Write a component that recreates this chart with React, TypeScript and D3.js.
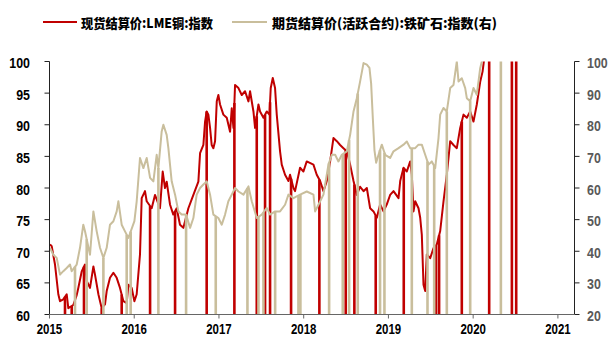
import React from 'react';
import * as d3 from 'd3';

// ---- Data (decimal years) ----
const copperDates = [
  2015.006, 2015.026, 2015.065, 2015.104, 2015.124, 2015.163, 2015.203, 2015.222, 2015.281, 2015.320,
  2015.340, 2015.380, 2015.419, 2015.439, 2015.478, 2015.518, 2015.537, 2015.577, 2015.616, 2015.655,
  2015.675, 2015.714, 2015.754, 2015.793, 2015.832, 2015.872, 2015.911, 2015.931, 2015.970, 2016.002,
  2016.029, 2016.068, 2016.088, 2016.127, 2016.147, 2016.206, 2016.245, 2016.304, 2016.336, 2016.363,
  2016.383, 2016.422, 2016.461, 2016.501, 2016.540, 2016.580, 2016.639, 2016.698, 2016.757, 2016.777,
  2016.816, 2016.836, 2016.855, 2016.875, 2016.895, 2016.914, 2016.934, 2016.954, 2016.974, 2016.993,
  2017.013, 2017.052, 2017.092, 2017.131, 2017.151, 2017.171, 2017.190, 2017.230, 2017.269, 2017.308,
  2017.348, 2017.367, 2017.407, 2017.426, 2017.466, 2017.485, 2017.525, 2017.564, 2017.596, 2017.611,
  2017.635, 2017.662, 2017.682, 2017.721, 2017.741, 2017.780, 2017.820, 2017.839, 2017.879, 2017.898,
  2017.957, 2017.997, 2018.036, 2018.115, 2018.154, 2018.194, 2018.233, 2018.273, 2018.312, 2018.351,
  2018.391, 2018.430, 2018.469, 2018.509, 2018.548, 2018.588, 2018.627, 2018.666, 2018.706, 2018.745,
  2018.784, 2018.824, 2018.863, 2018.902, 2018.942, 2018.981, 2019.020, 2019.060, 2019.119, 2019.139,
  2019.178, 2019.217, 2019.257, 2019.276, 2019.296, 2019.316, 2019.355, 2019.375, 2019.394, 2019.414,
  2019.434, 2019.453, 2019.493, 2019.532, 2019.571, 2019.611, 2019.650, 2019.689, 2019.729, 2019.768,
  2019.807, 2019.847, 2019.886, 2019.925, 2019.965, 2020.004, 2020.043, 2020.083, 2020.111, 2020.131,
];
const copperValues = [
  71.1, 70.8, 67.9, 63.2, 62.1, 62.4, 63.2, 61.0, 61.5, 63.0,
  64.2, 66.8, 67.9, 65.3, 64.2, 67.6, 66.3, 63.2, 61.0, 61.6,
  63.7, 65.8, 66.6, 65.8, 64.2, 62.1, 61.8, 64.7, 64.2, 62.1,
  63.2, 69.5, 78.4, 79.5, 77.9, 76.8, 78.9, 76.8, 82.6, 80.0,
  81.0, 77.4, 75.8, 76.8, 74.2, 73.7, 76.8, 78.9, 81.0, 85.5,
  86.8, 90.5, 92.1, 91.6, 89.5, 86.8, 86.3, 87.4, 93.7, 94.7,
  93.2, 91.6, 91.1, 88.9, 92.6, 89.5, 96.3, 95.8, 94.7, 95.3,
  93.7, 95.3, 92.1, 89.5, 93.2, 92.1, 91.1, 92.1, 91.6, 95.8,
  97.4, 95.8, 91.6, 85.8, 83.7, 82.1, 81.1, 82.1, 80.0, 79.5,
  83.2, 82.6, 84.2, 83.7, 82.1, 81.1, 79.5, 81.1, 84.2, 87.9,
  87.4, 86.8, 86.3, 85.8, 83.7, 81.1, 78.9, 80.2, 79.5, 80.0,
  76.8, 76.3, 75.3, 77.4, 76.3, 77.4, 78.9, 79.5, 78.4, 81.1,
  83.2, 82.6, 84.2, 82.1, 76.3, 77.9, 76.8, 75.3, 72.6, 64.7,
  63.7, 69.5, 68.9, 70.5, 71.1, 73.2, 77.9, 82.1, 87.4, 86.8,
  86.3, 89.5, 91.6, 91.1, 92.1, 90.5, 93.2, 96.8, 98.4, 100.5,
];
// days where the copper series drops to zero (drawn as vertical drops)
const copperGaps = [
  2015.183, 2015.262, 2015.407, 2015.616, 2015.852, 2016.187, 2016.482, 2016.855, 2017.182, 2017.446,
  2017.544, 2017.603, 2017.851, 2018.185, 2018.496, 2018.598, 2018.850, 2019.181, 2019.562, 2019.598,
  2019.866,
];
// full-height spikes after the series ends
const copperSpikes = [2020.189, 2020.457, 2020.508];

const ironDates = [
  2015.006, 2015.045, 2015.085, 2015.124, 2015.163, 2015.203, 2015.242, 2015.262, 2015.321, 2015.360,
  2015.399, 2015.419, 2015.478, 2015.518, 2015.557, 2015.596, 2015.636, 2015.675, 2015.714, 2015.754,
  2015.793, 2015.813, 2015.852, 2015.891, 2015.931, 2016.002, 2016.029, 2016.068, 2016.108, 2016.147,
  2016.187, 2016.226, 2016.265, 2016.285, 2016.324, 2016.344, 2016.383, 2016.403, 2016.442, 2016.482,
  2016.521, 2016.560, 2016.612, 2016.659, 2016.698, 2016.737, 2016.777, 2016.816, 2016.855, 2016.895,
  2016.934, 2016.993, 2017.033, 2017.072, 2017.111, 2017.151, 2017.190, 2017.230, 2017.289, 2017.348,
  2017.387, 2017.446, 2017.505, 2017.564, 2017.603, 2017.663, 2017.721, 2017.780, 2017.820, 2017.879,
  2017.957, 2018.036, 2018.115, 2018.135, 2018.174, 2018.233, 2018.292, 2018.332, 2018.371, 2018.410,
  2018.450, 2018.509, 2018.548, 2018.588, 2018.627, 2018.666, 2018.706, 2018.745, 2018.776, 2018.796,
  2018.816, 2018.835, 2018.855, 2018.883, 2018.922, 2018.961, 2019.020, 2019.060, 2019.119, 2019.178,
  2019.217, 2019.257, 2019.316, 2019.355, 2019.394, 2019.434, 2019.473, 2019.512, 2019.552, 2019.591,
  2019.611, 2019.650, 2019.689, 2019.729, 2019.768, 2019.807, 2019.827, 2019.866, 2019.906, 2019.925,
  2019.965, 2020.004, 2020.043, 2020.083, 2020.102, 2020.131,
];
const ironValues = [
  41.1, 38.9, 37.9, 32.6, 33.7, 34.7, 35.8, 33.7, 35.8, 41.1,
  48.4, 46.3, 38.9, 52.6, 46.3, 41.1, 37.9, 41.1, 48.4, 49.5,
  52.6, 55.8, 48.4, 46.3, 44.2, 49.5, 55.8, 69.5, 66.3, 69.5,
  63.2, 62.1, 70.5, 66.3, 77.9, 80.0, 76.8, 72.6, 62.1, 57.9,
  52.6, 51.6, 51.6, 47.4, 50.5, 57.9, 60.0, 61.1, 62.1, 57.9,
  51.6, 50.5, 48.4, 51.6, 55.8, 57.9, 60.0, 58.9, 57.9, 60.5,
  55.8, 50.5, 51.6, 53.7, 51.6, 52.6, 52.6, 54.7, 57.9, 56.8,
  57.9, 58.9, 57.9, 52.6, 54.7, 57.9, 67.4, 70.5, 70.5, 68.4,
  70.5, 71.6, 76.8, 84.2, 88.4, 93.7, 99.5, 99.0, 98.0, 93.0,
  82.0, 72.0, 68.0, 70.5, 73.7, 70.5, 69.5, 71.6, 72.6, 73.7,
  74.7, 72.6, 72.6, 73.7, 73.7, 70.5, 67.4, 68.4, 66.3, 75.8,
  83.2, 85.3, 84.2, 91.6, 92.6, 100.0, 93.7, 94.7, 91.6, 88.4,
  87.4, 91.6, 89.5, 97.9, 100.0, 101.0,
];
const ironGaps = [
  2015.301, 2015.439, 2015.636, 2015.911, 2015.958, 2016.285, 2016.612, 2016.962, 2017.336, 2017.466,
  2017.525, 2017.663, 2017.938, 2017.961, 2018.300, 2018.461, 2018.536, 2018.638, 2018.901, 2018.953,
  2019.276, 2019.461, 2019.540, 2019.689, 2019.965,
];
const ironSpikes = [2020.327];

const yearTicks = [2015, 2016, 2017, 2018, 2019, 2020, 2021];
const leftTicks = [60, 65, 70, 75, 80, 85, 90, 95, 100];
const rightTicks = [20, 30, 40, 50, 60, 70, 80, 90, 100];

const legendLabels = ['现货结算价:LME铜:指数', '期货结算价(活跃合约):铁矿石:指数(右)'];

const RED = '#c00000';
const TAN = '#c9be9c';

export default function App() {
  const W = 611;
  const H = 337;
  const L = 49.5;
  const R = 574.5;
  const T = 61.5;
  const B = 314.5;

  const x = d3.scaleLinear().domain([2015, 2021.196]).range([L, R]);
  const yL = d3.scaleLinear().domain([60, 100]).range([B, T]);
  const yR = d3.scaleLinear().domain([20, 100]).range([B, T]);

  const copperPts = copperDates.map((d, i) => [d, copperValues[i]] as [number, number]);
  const ironPts = ironDates.map((d, i) => [d, ironValues[i]] as [number, number]);

  const lineL = d3.line<[number, number]>().x((d) => x(d[0])).y((d) => yL(d[1]));
  const lineR = d3.line<[number, number]>().x((d) => x(d[0])).y((d) => yR(d[1]));

  const copperAt = d3.scaleLinear().domain(copperDates).range(copperValues).clamp(true);
  const ironAt = d3.scaleLinear().domain(ironDates).range(ironValues).clamp(true);

  const numFont = "'Liberation Sans', Arial, sans-serif";
  const cjkFont = "'Noto Sans CJK SC', sans-serif";
  const axisColor = '#595959';

  return (
    <svg
      width={W}
      height={H}
      viewBox={`0 0 ${W} ${H}`}
      style={{ position: 'absolute', left: 0, top: 0, background: '#fff' }}
    >
      <defs>
        <clipPath id="plot">
          <rect x={L} y={T} width={R - L} height={B - T} />
        </clipPath>
      </defs>

      {/* Legend */}
      <line x1={43} x2={77} y1={22} y2={22} stroke={RED} strokeWidth={2} />
      <text
        x={81}
        y={22}
        dominantBaseline="central"
        fontFamily={cjkFont}
        fontWeight={900}
        fontSize={13}
        textLength={132}
        lengthAdjust="spacingAndGlyphs"
        fill="#000"
      >
        {legendLabels[0]}
      </text>
      <line x1={232} x2={267} y1={22} y2={22} stroke={TAN} strokeWidth={2} />
      <text
        x={272}
        y={22}
        dominantBaseline="central"
        fontFamily={cjkFont}
        fontWeight={900}
        fontSize={13}
        textLength={225}
        lengthAdjust="spacingAndGlyphs"
        fill="#000"
      >
        {legendLabels[1]}
      </text>

      {/* Series */}
      <g clipPath="url(#plot)">
        <path d={lineL(copperPts) || ''} fill="none" stroke={RED} strokeWidth={2} strokeLinejoin="round" />
        {copperGaps.map((g, i) => (
          <line key={'cg' + i} x1={x(g)} x2={x(g)} y1={yL(copperAt(g))} y2={B + 2} stroke={RED} strokeWidth={2.6} />
        ))}
        {copperSpikes.map((g, i) => (
          <line key={'cs' + i} x1={x(g)} x2={x(g)} y1={T - 2} y2={B + 2} stroke={RED} strokeWidth={2.6} />
        ))}
        <path d={lineR(ironPts) || ''} fill="none" stroke={TAN} strokeWidth={2} strokeLinejoin="round" />
        {ironGaps.map((g, i) => (
          <line key={'ig' + i} x1={x(g)} x2={x(g)} y1={yR(ironAt(g))} y2={B + 2} stroke={TAN} strokeWidth={2.6} />
        ))}
        {ironSpikes.map((g, i) => (
          <line key={'is' + i} x1={x(g)} x2={x(g)} y1={T - 2} y2={B + 2} stroke={TAN} strokeWidth={2.6} />
        ))}
      </g>

      {/* Left axis */}
      <line x1={L} x2={L} y1={T} y2={B} stroke="#222" strokeWidth={1} />
      {leftTicks.map((t) => (
        <g key={'l' + t}>
          <line x1={L - 5} x2={L} y1={yL(t)} y2={yL(t)} stroke="#222" strokeWidth={1} />
          <text
            x={30}
            y={yL(t) + 1.5}
            textAnchor="end"
            dominantBaseline="central"
            fontFamily={numFont}
            fontWeight="bold"
            fontSize={14}
            textLength={String(t).length * 6.9}
            lengthAdjust="spacingAndGlyphs"
            fill="#000"
          >
            {t}
          </text>
        </g>
      ))}

      {/* Right axis */}
      <line x1={R} x2={R} y1={T} y2={B} stroke="#222" strokeWidth={1} />
      {rightTicks.map((t) => (
        <g key={'r' + t}>
          <line x1={R} x2={R + 5} y1={yR(t)} y2={yR(t)} stroke="#222" strokeWidth={1} />
          <text
            x={587}
            y={yR(t) + 1.5}
            textAnchor="start"
            dominantBaseline="central"
            fontFamily={numFont}
            fontWeight="bold"
            fontSize={14}
            textLength={String(t).length * 6.9}
            lengthAdjust="spacingAndGlyphs"
            fill={axisColor}
          >
            {t}
          </text>
        </g>
      ))}

      {/* Bottom axis */}
      <line x1={L} x2={R} y1={B} y2={B} stroke="#666" strokeWidth={1} />
      {yearTicks.map((t) => (
        <g key={'x' + t}>
          <line x1={x(t)} x2={x(t)} y1={B} y2={B + 4} stroke="#666" strokeWidth={1} />
          <text
            x={x(t)}
            y={328.5}
            textAnchor="middle"
            dominantBaseline="central"
            fontFamily={numFont}
            fontWeight="bold"
            fontSize={14}
            textLength={25.5}
            lengthAdjust="spacingAndGlyphs"
            fill="#000"
          >
            {t}
          </text>
        </g>
      ))}
    </svg>
  );
}
